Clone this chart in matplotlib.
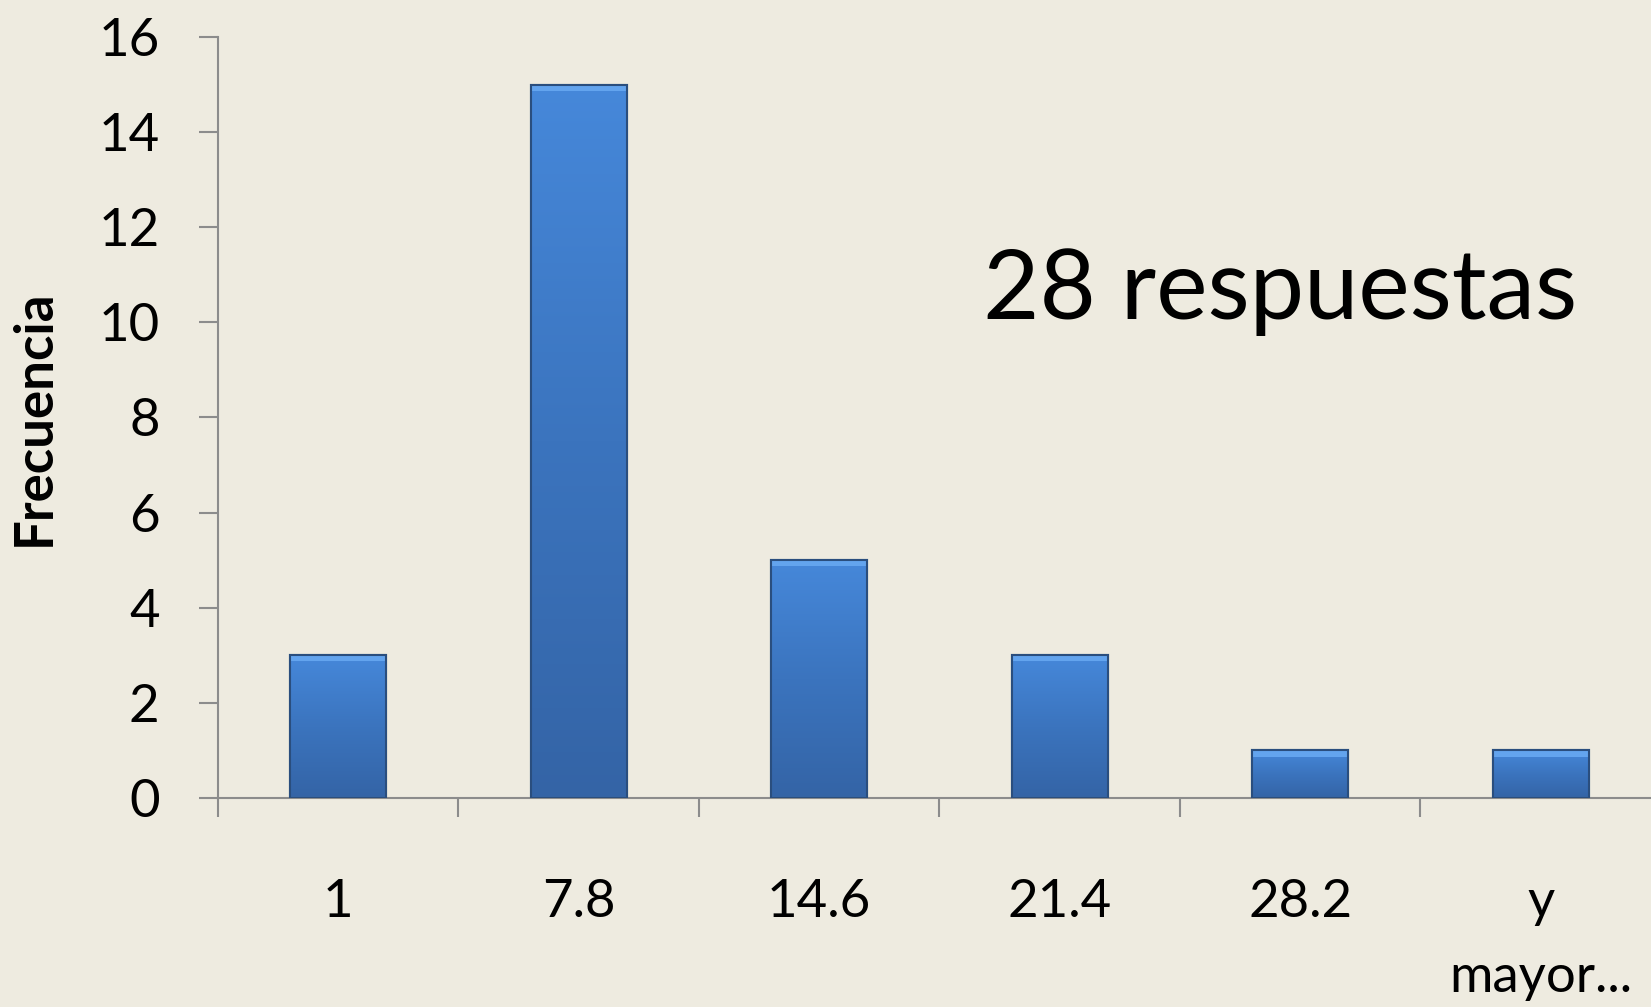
import matplotlib
matplotlib.use("Agg")
import matplotlib.pyplot as plt
import numpy as np
from matplotlib.colors import LinearSegmentedColormap

categories = ["1", "7.8", "14.6", "21.4", "28.2", "y\nmayor..."]
values = [3, 15, 5, 3, 1, 1]
yticks = [0, 2, 4, 6, 8, 10, 12, 14, 16]

plt.rcParams['font.family'] = ['Lato', 'DejaVu Sans']
bg = "#EEEBE0"
fig = plt.figure(figsize=(16.51, 10.07), dpi=100, facecolor=bg)
ax = fig.add_axes([0.132, 0.2076, 0.874, 0.7557])
ax.set_facecolor(bg)

x = np.arange(len(categories))
bars = ax.bar(x, values, width=0.4, color="#3F7BC8", edgecolor="#2A4E7E", linewidth=1.5, zorder=2)

cmap = LinearSegmentedColormap.from_list("g", ["#3464A6", "#3B74BE", "#4688DA"])
grad = np.linspace(0, 1, 256).reshape(-1, 1)
for b in bars:
    x0, y0, w, h = b.get_x(), b.get_y(), b.get_width(), b.get_height()
    im = ax.imshow(grad, extent=[x0, x0 + w, y0, y0 + h], origin="lower", cmap=cmap,
                   aspect="auto", zorder=2.5)
    im.set_clip_path(b)
    ax.fill_between([x0, x0 + w], y0 + h - 0.13, y0 + h, color="#63A4EE", zorder=2.6, linewidth=0)
    ax.bar(b.get_x() + w / 2, h, width=w, fill=False, edgecolor="#2A4E7E", linewidth=1.5, zorder=3)

ax.set_xlim(-0.5, len(categories) - 0.5)
ax.set_ylim(0, 16)

for s in ["top", "right"]:
    ax.spines[s].set_visible(False)
for s in ["left", "bottom"]:
    ax.spines[s].set_color("#8C8C8C")
    ax.spines[s].set_linewidth(1.5)

ax.set_yticks(yticks)
ax.set_yticklabels([str(t) for t in yticks], fontsize=38)
ax.tick_params(axis="y", length=14, width=1.5, color="#8C8C8C", pad=28, direction="out")

ax.set_xticks(np.arange(len(categories) + 1) - 0.5)
ax.set_xticklabels([])
ax.tick_params(axis="x", which="major", length=14, width=1.5, color="#8C8C8C", direction="out")
ax.set_xticks(x, minor=True)
ax.set_xticklabels(categories, minor=True, fontsize=38, linespacing=1.75, va="top")
ax.tick_params(axis="x", which="minor", length=0, pad=58)

ax.set_ylabel("Frecuencia", fontsize=38, fontweight="bold")
ax.yaxis.set_label_coords(-0.11, 0.5)

ax.text(0.736, 0.665, "28 respuestas", transform=ax.transAxes, fontsize=70,
        ha="center", va="center", color="black")

fig.savefig("out.png", dpi=100, facecolor=bg)
